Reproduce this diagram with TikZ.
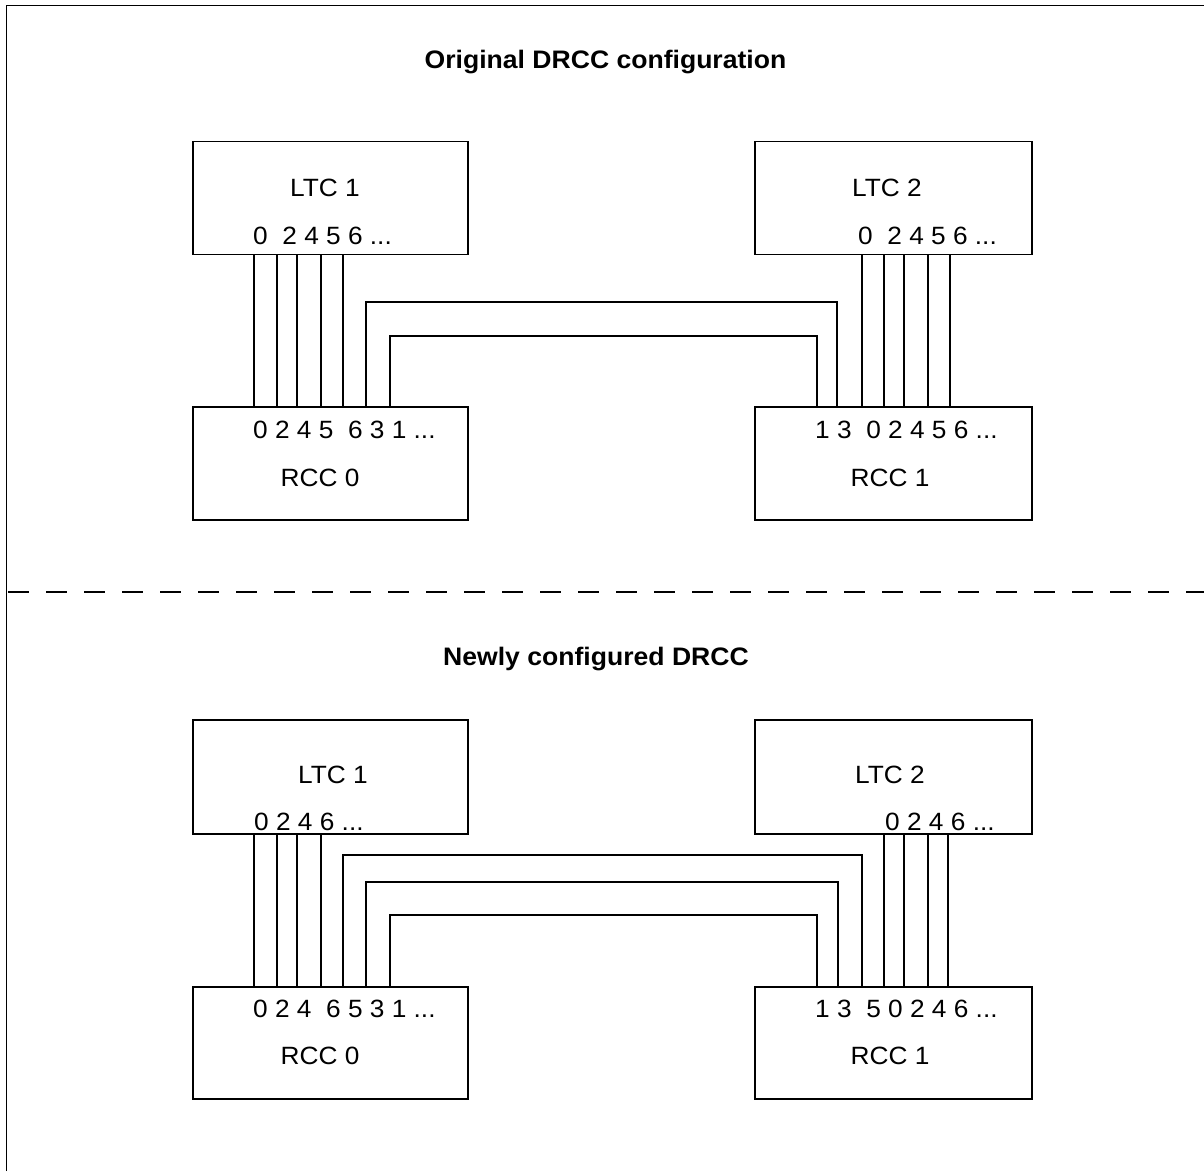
\documentclass[tikz,border=0pt]{standalone}
\usepackage{fontspec}
\setmainfont[FakeStretch=1.05]{Liberation Sans}
\begin{document}
\begin{tikzpicture}[x=1pt,y=-1pt,
  box/.style={draw,line width=1.8pt,rectangle,inner sep=0pt,minimum width=275pt,minimum height=113pt},
  lbl/.style={inner sep=0pt,font=\fontsize{25}{28}\selectfont},
  ttl/.style={inner sep=0pt,anchor=base,font=\fontsize{25.3}{28}\selectfont\bfseries},
  wire/.style={line width=1.6pt}]
\useasboundingbox (0,0) rectangle (1204,1171);
% frame
\draw[line width=1.3pt] (6.7,1171) -- (6.7,5.3) -- (1204,5.3);
% separator
\draw[line width=1.6pt,dash pattern=on 21pt off 17pt] (8,592) -- (1204,592);

% ---------- top half ----------
\node[ttl] (t1) at (605.5,68) {Original DRCC configuration};
\node[box] (l1) at (330.5,198) {};
\node[box,minimum width=277pt] (l2) at (893.5,198) {};
\node[box] (r0) at (330.5,463.5) {};
\node[box,minimum width=277pt] (r1) at (893.5,463.5) {};
\node[lbl,anchor=base] (l1t) at (325,196) {LTC 1};
\node[lbl,anchor=base] (l2t) at (887,196) {LTC 2};
\node[lbl,anchor=base] (r0t) at (320,486) {RCC 0};
\node[lbl,anchor=base] (r1t) at (890,486) {RCC 1};
\node[lbl,anchor=base west] (l1p) at (253,244.5) {0~~2 4 5 6 ...};
\node[lbl,anchor=base west] (l2p) at (858,244.5) {0~~2 4 5 6 ...};
\node[lbl,anchor=base west] (r0p) at (253,438) {0 2 4 5~~6 3 1 ...};
\node[lbl,anchor=base west] (r1p) at (815,438) {1 3~~0 2 4 5 6 ...};
% straight wires LTC1 -> RCC0
\foreach \d in {62,85,105,129,151}
  \draw[wire] ([xshift=\d]l1.south west) -- ([xshift=\d]r0.north west);
% straight wires LTC2 -> RCC1
\foreach \d in {108,130,150,174,196}
  \draw[wire] ([xshift=\d]l2.south west) -- ([xshift=\d]r1.north west);
% crossing wires RCC0 -> RCC1
\draw[wire] ([xshift=174]r0.north west) -- ++(0,-104) -| ([xshift=83]r1.north west);
\draw[wire] ([xshift=198]r0.north west) -- ++(0,-70) -| ([xshift=63]r1.north west);

% ---------- bottom half ----------
\node[ttl] (t2) at (596,665) {Newly configured DRCC};
\node[box,minimum height=114pt] (l1b) at (330.5,777) {};
\node[box,minimum width=277pt,minimum height=114pt] (l2b) at (893.5,777) {};
\node[box,minimum height=112pt] (r0b) at (330.5,1043) {};
\node[box,minimum width=277pt,minimum height=112pt] (r1b) at (893.5,1043) {};
\node[lbl,anchor=base] (l1bt) at (333,783) {LTC 1};
\node[lbl,anchor=base] (l2bt) at (890,783) {LTC 2};
\node[lbl,anchor=base] (r0bt) at (320,1064) {RCC 0};
\node[lbl,anchor=base] (r1bt) at (890,1064) {RCC 1};
\node[lbl,anchor=base west] (l1bp) at (254,830) {0 2 4 6 ...};
\node[lbl,anchor=base west] (l2bp) at (885,830) {0 2 4 6 ...};
\node[lbl,anchor=base west] (r0bp) at (253,1017) {0 2 4~~6 5 3 1 ...};
\node[lbl,anchor=base west] (r1bp) at (815,1017) {1 3~~5 0 2 4 6 ...};
\foreach \d in {62,85,105,129}
  \draw[wire] ([xshift=\d]l1b.south west) -- ([xshift=\d]r0b.north west);
\foreach \d in {130,150,174,194}
  \draw[wire] ([xshift=\d]l2b.south west) -- ([xshift=\d]r1b.north west);
\draw[wire] ([xshift=151]r0b.north west) -- ++(0,-131) -| ([xshift=108]r1b.north west);
\draw[wire] ([xshift=174]r0b.north west) -- ++(0,-104) -| ([xshift=84]r1b.north west);
\draw[wire] ([xshift=198]r0b.north west) -- ++(0,-71) -| ([xshift=63]r1b.north west);
\end{tikzpicture}
\end{document}
